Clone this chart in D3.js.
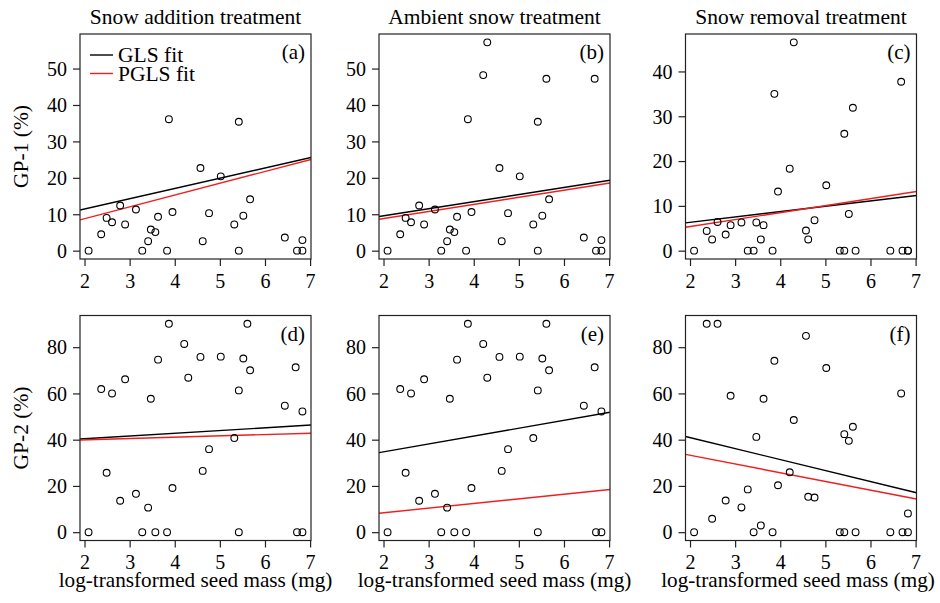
<!DOCTYPE html>
<html><head><meta charset="utf-8">
<script src="https://cdn.jsdelivr.net/npm/d3@7"></script>
<style>
body{margin:0;background:#fff}
svg{display:block}
text{font-family:"Liberation Serif","Times New Roman",serif;fill:#000}
</style>
</head><body>
<svg id="chart" width="940" height="603"></svg>
<script>
// log-transformed seed mass (mg) of the 32 species
const seedMass = [2.09,2.37,2.49,2.61,2.79,2.90,3.14,3.28,3.41,3.47,3.57,3.63,3.83,3.87,3.95,4.21,
                  4.30,4.57,4.62,4.76,5.02,5.32,5.42,5.42,5.52,5.61,5.67,6.44,6.68,6.71,6.83,6.83];
// GP-1 (%)
const gp1Addition = [0,4.5,9.0,7.8,12.4,7.2,11.3,0,2.6,5.8,5.1,9.3,0,36.1,10.6,null,
                     null,22.7,2.6,10.3,20.4,7.2,35.4,0,9.6,null,14.1,3.6,null,0,0,2.9];
const gp1Ambient  = [0,4.5,9.0,7.8,12.4,7.2,11.3,0,2.6,5.8,5.1,9.3,0,36.1,10.6,48.2,
                     57.2,22.7,2.6,10.3,20.4,7.2,35.4,0,9.6,47.2,14.1,3.6,47.2,0,0,2.9];
const gp1Removal  = [0,4.4,2.5,6.4,3.6,5.7,6.3,0,0,6.3,2.5,5.7,0,35.0,13.2,18.3,
                     46.5,4.5,2.5,6.8,14.6,0,26.1,0,8.2,31.9,0,0,37.7,0,0,0];
// GP-2 (%)
const gp2Addition = [0,61.9,25.7,60.0,13.6,66.1,16.6,0,10.6,57.7,0,74.6,0,90.1,19.1,81.4,
                     66.8,75.8,26.5,35.9,75.9,40.7,61.3,0,75.1,90.1,70.0,54.7,71.3,0,0,52.2];
const gp2Ambient  = [0,61.9,25.7,60.0,13.6,66.1,16.6,0,10.6,57.7,0,74.6,0,90.1,19.1,81.4,
                     66.8,75.8,26.5,35.9,75.9,40.7,61.3,0,75.1,90.1,70.0,54.7,71.3,0,0,52.2];
const gp2Removal  = [0,90.1,5.8,90.1,13.7,59.0,10.7,18.5,0,41.2,2.9,57.7,0,74.1,20.3,25.9,
                     48.5,84.9,15.3,15.0,71.0,0,42.4,0,39.5,45.6,0,0,60.0,0,0,8.1];
// fitted lines: [intercept, slope] for panels a..f
const glsFit  = [[5.8,2.82],[5.7,1.94],[3.95,1.19],[38.0,1.19],[27.9,3.41],[50.4,-4.75]];
const pglsFit = [[2.3,3.24],[4.9,1.95],[2.25,1.56],[38.8,0.57],[4.4,2.0],[40.8,-3.77]];
const panelLabels = ["(a)","(b)","(c)","(d)","(e)","(f)"];
const treatments = ["Snow addition treatment","Ambient snow treatment","Snow removal treatment"];
const xTicks = [2,3,4,5,6,7];
const yTicksGP1 = [[0,10,20,30,40,50],[0,10,20,30,40,50],[0,10,20,30,40]];
const yTicksGP2 = [0,20,40,60,80];
const legendItems = ["GLS fit","PGLS fit"];
const yLabels = ["GP-1 (%)","GP-2 (%)"];
const xLabel = "log-transformed seed mass (mg)";

const series = [gp1Addition,gp1Ambient,gp1Removal,gp2Addition,gp2Ambient,gp2Removal];
const yDomains = [[-2.29,59.49],[-2.29,59.49],[-1.86,48.36],[-3.6,93.7],[-3.6,93.7],[-3.6,93.7]];

const svg = d3.select("#chart");
const colLeft = [80,379,685.5], panelW = 231;
const rowTop = [34,315.5], panelH = 225;
const RED = "#f01e1e";

series.forEach((ys,i)=>{
  const col = i%3, row = Math.floor(i/3);
  const g = svg.append("g").attr("transform",`translate(${colLeft[col]},${rowTop[row]})`);
  const x = d3.scaleLinear().domain([1.9,7.02]).range([0,panelW]);
  const y = d3.scaleLinear().domain(yDomains[i]).range([panelH,0]);
  const yt = row===0 ? yTicksGP1[col] : yTicksGP2;

  const xa = g.append("g").attr("transform",`translate(0,${panelH})`)
    .call(d3.axisBottom(x).tickValues(xTicks).tickFormat(d3.format("d")).tickSize(7).tickSizeOuter(0));
  const ya = g.append("g")
    .call(d3.axisLeft(y).tickValues(yt).tickFormat(d3.format("d")).tickSize(7).tickSizeOuter(0).tickPadding(6));
  [xa,ya].forEach(a=>{
    a.select(".domain").remove();
    a.selectAll("line").attr("stroke","#222").attr("stroke-width",1.2);
    a.selectAll("text").attr("font-size",20).attr("fill","#000").attr("font-family","Liberation Serif, serif");
  });
  ya.selectAll("text").attr("dy","0.34em");
  xa.selectAll("text").attr("y",28.5).attr("dy",0);

  const clipId = "clip"+i;
  g.append("clipPath").attr("id",clipId).append("rect").attr("width",panelW).attr("height",panelH);
  const inner = g.append("g").attr("clip-path",`url(#${clipId})`);
  const ends = (f)=>x.domain().map(v=>[v, f[0]+f[1]*v]);
  [[glsFit[i],"#000"],[pglsFit[i],RED]].forEach(([f,c])=>{
    const e = ends(f);
    inner.append("line")
      .attr("x1",x(e[0][0])).attr("y1",y(e[0][1])).attr("x2",x(e[1][0])).attr("y2",y(e[1][1]))
      .attr("stroke",c).attr("stroke-width",1.4);
  });

  const pts = seedMass.map((m,k)=>({m, v: ys[k]})).filter(d=>d.v!==null);
  inner.selectAll("circle").data(pts).join("circle")
    .attr("cx",d=>x(d.m)).attr("cy",d=>y(d.v)).attr("r",3.4)
    .attr("fill","none").attr("stroke","#000").attr("stroke-width",1.1);

  g.append("rect").attr("width",panelW).attr("height",panelH)
    .attr("fill","none").attr("stroke","#222").attr("stroke-width",1.2);

  g.append("text").attr("x",panelW-6).attr("y",25).attr("text-anchor","end")
    .attr("font-size",21).text(panelLabels[i]);

  if(row===0){
    g.append("text").attr("x",panelW/2).attr("y",-10).attr("text-anchor","middle")
      .attr("font-size",21.5).text(treatments[col]);
  } else {
    g.append("text").attr("x",panelW/2 - (col===2?3:0)).attr("y",panelH+46.5).attr("text-anchor","middle")
      .attr("font-size",21.2).text(xLabel);
  }
  if(col===0){
    g.append("text").attr("transform",`translate(-52,${panelH/2}) rotate(-90)`)
      .attr("text-anchor","middle").attr("font-size",21.5).text(yLabels[row]);
  }
  if(i===0){
    const colors = ["#000",RED];
    legendItems.forEach((t,k)=>{
      const ly = 21 + k*18.5;
      g.append("line").attr("x1",10).attr("x2",33).attr("y1",ly).attr("y2",ly)
        .attr("stroke",colors[k]).attr("stroke-width",1.4);
      g.append("text").attr("x",38).attr("y",ly).attr("dy","0.34em").attr("font-size",21.5).text(t);
    });
  }
});
</script>
</body></html>
